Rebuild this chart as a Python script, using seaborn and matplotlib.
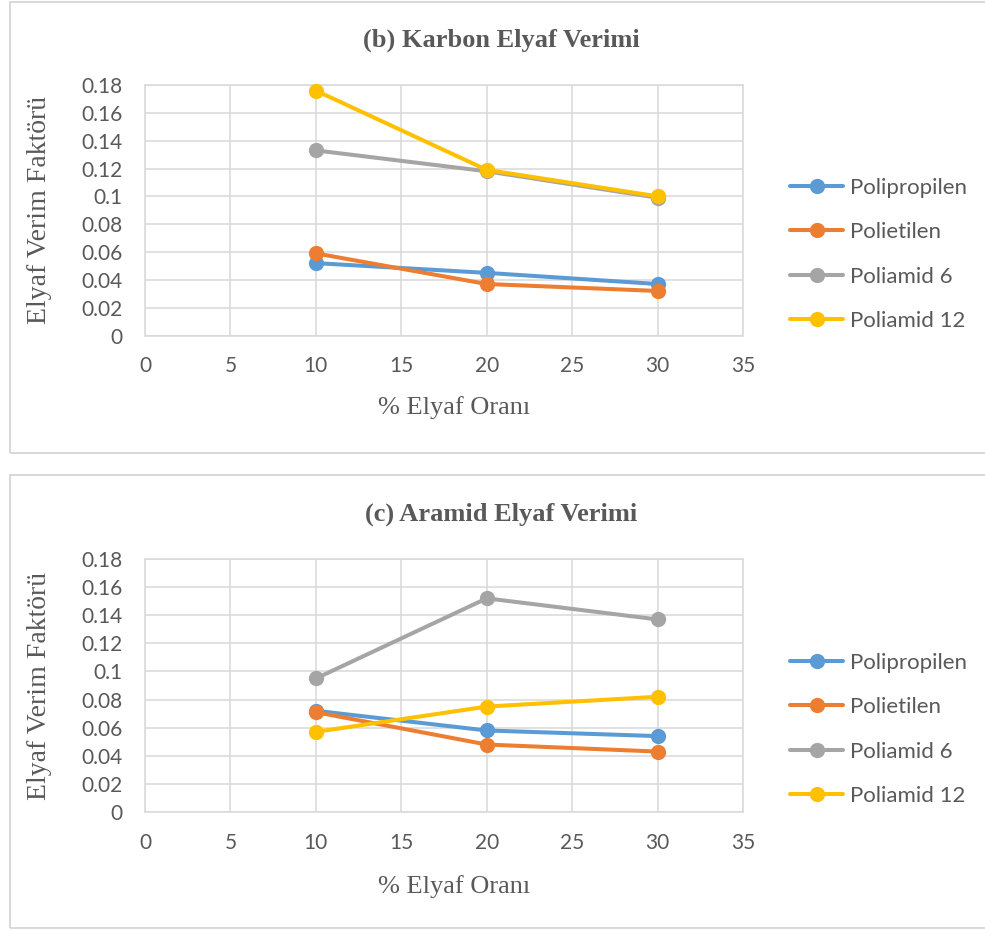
import numpy as np
import pandas as pd
import seaborn as sns
import matplotlib
matplotlib.use("Agg")
import matplotlib.pyplot as plt
from matplotlib.lines import Line2D
from matplotlib.patches import Rectangle

# ---------------- data ----------------
oran = [10, 20, 30]
polimerler = ["Polipropilen", "Polietilen", "Poliamid 6", "Poliamid 12"]

karbon_pp = [0.052, 0.045, 0.037]
karbon_pe = [0.059, 0.037, 0.032]
karbon_pa6 = [0.133, 0.118, 0.099]
karbon_pa12 = [0.176, 0.119, 0.100]

aramid_pp = [0.072, 0.058, 0.054]
aramid_pe = [0.071, 0.048, 0.043]
aramid_pa6 = [0.095, 0.152, 0.137]
aramid_pa12 = [0.057, 0.075, 0.082]

x_ticks = [0, 5, 10, 15, 20, 25, 30, 35]
y_ticks = [0, 0.02, 0.04, 0.06, 0.08, 0.10, 0.12, 0.14, 0.16, 0.18]
y_tick_labels = ["0", "0.02", "0.04", "0.06", "0.08", "0.1", "0.12", "0.14", "0.16", "0.18"]

titles = ["(b) Karbon Elyaf Verimi", "(c) Aramid Elyaf Verimi"]
xlabel = "% Elyaf Oranı"
ylabel = "Elyaf Verim Faktörü"

colors = ["#5B9BD5", "#ED7D31", "#A5A5A5", "#FFC000"]


def long_df(series):
    rows = []
    for name, vals in zip(polimerler, series):
        for x, v in zip(oran, vals):
            rows.append({"oran": x, "verim": v, "polimer": name})
    return pd.DataFrame(rows)


df_b = long_df([karbon_pp, karbon_pe, karbon_pa6, karbon_pa12])
df_c = long_df([aramid_pp, aramid_pe, aramid_pa6, aramid_pa12])

# ---------------- style ----------------
sns.set_style("white")
SANS = ["Lato", "DejaVu Sans"]
SERIF = ["Liberation Serif", "DejaVu Serif"]
plt.rcParams["font.family"] = SANS
TXT = "#595959"
GRID = "#D9D9D9"

W, H = 985, 931
fig = plt.figure(figsize=(W / 100, H / 100), dpi=100)

# panel frames
for top, bot in [(2, 453), (475, 928)]:
    fig.add_artist(Rectangle((9.5 / W, 1 - bot / H), 1.0, (bot - top) / H,
                             transform=fig.transFigure, fill=False,
                             edgecolor="#D6D6D6", linewidth=1.3))

axes_px = [(85, 335.5), (559, 812)]
xlabel_y = [408, 887]
title_y = [40, 514]
legend_cy = [254.5, 729.5]

pal = dict(zip(polimerler, colors))

for i, (df, (top, bot)) in enumerate(zip([df_b, df_c], axes_px)):
    ax_h = bot - top
    ax = fig.add_axes([145 / W, 1 - bot / H, 598 / W, ax_h / H])
    sns.lineplot(data=df, x="oran", y="verim", hue="polimer", palette=pal,
                 hue_order=polimerler, marker="o", markersize=11,
                 markeredgewidth=0, linewidth=2.9, legend=False, ax=ax,
                 sort=False, zorder=3)
    for ln in ax.get_lines():
        ln.set_clip_on(False)
    ax.set_xlim(0, 35)
    ax.set_ylim(0, 0.18)
    ax.set_xticks(x_ticks)
    ax.set_xticklabels([str(t) for t in x_ticks])
    ax.set_yticks(y_ticks)
    ax.set_yticklabels(y_tick_labels)
    ax.grid(True, color=GRID, linewidth=1.1)
    ax.set_axisbelow(True)
    for s in ax.spines.values():
        s.set_color(GRID)
        s.set_linewidth(1.1)
    ax.tick_params(axis="both", length=0, labelsize=15, labelcolor=TXT)
    ax.tick_params(axis="y", pad=16)
    ax.tick_params(axis="x", pad=15)

    ax.set_xlabel(xlabel, fontsize=19, color=TXT, family=SERIF)
    ax.set_ylabel(ylabel, fontsize=20, color=TXT, family=SERIF)
    ax.xaxis.label.set_va("center")
    ax.yaxis.label.set_va("center")
    ax.xaxis.set_label_coords((454 - 145) / 598, -(xlabel_y[i] - bot) / ax_h)
    ax.yaxis.set_label_coords(-(145 - 40) / 598, 0.5)

    fig.text(501 / W, 1 - title_y[i] / H, titles[i], ha="center", va="center",
             fontsize=19, fontweight="bold", color=TXT, family=SERIF)

    handles = [Line2D([], [], color=c, marker="o", markersize=11,
                      markeredgewidth=0, linewidth=2.9) for c in colors]
    ax.legend(handles, polimerler, loc="center left",
              bbox_to_anchor=(790 / W, 1 - legend_cy[i] / H),
              bbox_transform=fig.transFigure, frameon=False, fontsize=16,
              labelcolor=TXT, handlelength=2.4, handletextpad=0.3,
              borderpad=0, borderaxespad=0, labelspacing=1.1, numpoints=1)

fig.savefig("out.png", dpi=100)
